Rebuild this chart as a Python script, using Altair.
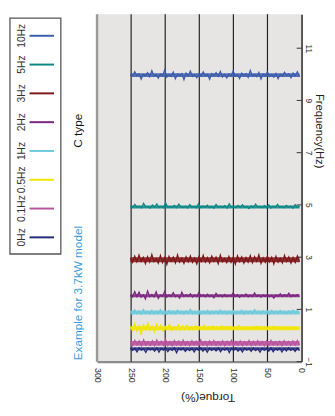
import altair as alt
import pandas as pd
import numpy as np

# ---------------- data ----------------
series_labels = ["0Hz", "0.1Hz", "0.5Hz", "1Hz", "2Hz", "3Hz", "5Hz", "10Hz"]
series_colors = ["#252a78", "#b9529e", "#f2e600", "#6ccadc", "#7b2580", "#7e1518", "#0b8785", "#3b5bab"]
# measured frequency level of each trace (Hz)
series_levels = [-0.51, -0.30, 0.28, 0.88, 1.52, 2.90, 4.92, 9.97]
# visible thickness of the solid part of each trace (px)
series_band = [3, 5, 4, 4, 3, 5, 3, 4]
torque_start = 251
torque_end = 3

# ripple of each trace, in 0.01 Hz, read left (high torque) to right (low torque)
noise_0hz = [3,-6,2,-12,4,-5,1,-14,3,-4,2,-9,4,-13,2,-5,3,-11,1,-6,4,-15,2,-4,3,-10,1,-7,3,-12,2,-5,4,-9,1,-13,3,-6,2,-8,4,-11,1,-5,3,-14,2,-6,4,-9,1,-12,3,-5,2,-10,4,-7,1,-13,3,-6,2,-9,4,-11,1,-5,3,-12,2,-8,4,-6,1,-10,3,-7]
noise_01hz = [8,-8,12,-6,9,-9,14,-7,6,-8,10,-9,13,-6,8,-7,15,-8,7,-9,11,-6,9,-8,12,-7,6,-9,10,-6,8,-8,13,-7,7,-9,9,-6,11,-8,6,-7,10,-9,8,-6,12,-8,7,-7,9,-9,6,-6,11,-8,8,-7,10,-6,7,-9,9,-8,12,-6,6,-7,8,-9,10,-6,7,-8,9,-7,11,-6]
noise_05hz = [6,-8,18,-12,10,-26,14,-6,20,-9,8,-14,16,-5,12,-10,7,-4,15,-8,5,-6,13,-7,9,-5,11,-4,6,-6,10,-3,5,-5,12,-4,6,-3,8,-5,4,-4,9,-3,5,-5,7,-4,3,-3,10,-4,5,-3,6,-5,4,-3,8,-4,5,-2,6,-4,3,-3,7,-4,5,-3,4,-5,6,-3,4,-2,5,-4,3]
noise_1hz = [5,-5,10,-4,6,-6,12,-3,4,-5,8,-6,5,-4,11,-5,3,-6,7,-4,5,-5,9,-3,4,-6,6,-4,13,-5,3,-4,7,-6,5,-3,8,-5,4,-4,6,-5,10,-3,5,-6,4,-4,7,-5,3,-3,9,-6,5,-4,6,-5,11,-3,4,-5,6,-4,5,-6,8,-3,4,-5,7,-4,3,-5,6,-4,9,-3,5,-5]
noise_2hz = [3,-4,16,-3,14,-5,4,-12,18,-3,5,-4,15,-10,3,-2,17,-5,4,-3,12,-4,2,-9,14,-3,4,-2,8,-5,3,-3,13,-2,4,-4,6,-3,2,-8,10,-2,3,-4,5,-3,2,-2,12,-3,4,-6,3,-2,7,-4,2,-3,11,-2,3,-5,4,-2,6,-3,2,-9,3,-2,8,-3,4,-2,10,-4,3,-2,5,-3]
noise_3hz = [6,-10,14,-8,18,-6,9,-15,12,-9,20,-7,5,-13,16,-11,8,-18,13,-6,10,-12,19,-9,7,-14,11,-8,15,-10,6,-16,12,-7,17,-9,8,-12,14,-6,10,-15,18,-8,5,-11,13,-10,9,-17,15,-7,11,-13,8,-9,16,-11,12,-6,19,-14,7,-10,14,-8,10,-16,13,-9,6,-12,17,-7,11,-13,9,-10,15,-8]
noise_5hz = [2,-2,10,-1,3,-3,14,0,2,-4,8,-1,12,-2,3,-3,16,-1,2,-2,6,-3,11,1,-2,3,-4,9,-1,2,-3,13,-2,4,-1,7,-3,2,-5,10,-1,3,-2,5,-4,12,-1,2,-3,6,-2,9,-1,3,-6,4,-2,11,-1,2,-3,5,-2,8,-4,3,-1,10,-2,2,-3,6,-1,4,-5,9,-2,3]
noise_10hz = [2,-4,13,-3,5,-15,3,-2,9,-6,17,-4,3,-12,4,-3,20,-8,2,-5,11,-14,4,-2,6,-18,8,-3,15,-5,2,-10,5,-4,12,-3,3,-16,6,-2,9,-5,14,-7,3,-11,4,-3,16,-4,2,-13,7,-2,5,-9,18,-4,3,-6,10,-15,4,-3,12,-5,2,-8,6,-14,3,-4,11,-2,5,-10,8,-3,13,-6]
series_noise = [noise_0hz, noise_01hz, noise_05hz, noise_1hz, noise_2hz, noise_3hz, noise_5hz, noise_10hz]

torque_ticks = [0, 50, 100, 150, 200, 250, 300]
torque_grid = [50, 100, 150, 200, 250]
freq_ticks = [-1, 1, 3, 5, 7, 9, 11]

# ---------------- build tables ----------------
rows = []
band_rows = []
for lab, lev, noise, bw in zip(series_labels, series_levels, series_noise, series_band):
    tq = np.linspace(torque_start, torque_end, len(noise))
    for i, (t, n) in enumerate(zip(tq, noise)):
        rows.append({"series": lab, "torque": float(t), "freq": lev + n / 100.0, "i": i})
    band_rows.append({"series": lab, "torque": torque_start, "freq": lev, "bw": bw, "i": 0})
    band_rows.append({"series": lab, "torque": torque_end, "freq": lev, "bw": bw, "i": 1})
df = pd.DataFrame(rows)
band_df = pd.DataFrame(band_rows)

FONT = "Liberation Sans"
PLOT_W = 209
PLOT_H = 355
color_scale = alt.Scale(domain=series_labels, range=series_colors)
x_scale = alt.Scale(domain=[0, 300], reverse=True, nice=False, zero=False)
y_scale = alt.Scale(domain=[-1, 12.3], nice=False, zero=False)

x_axis = alt.Axis(values=torque_ticks, labelAngle=90, labelFontSize=9, labelColor="#333",
                  labelPadding=6, ticks=False, grid=False, domainColor="#8c8c8c", domainWidth=2.5,
                  title="Torque(%)", titleAngle=180, titleFontSize=12, titleFontWeight="normal",
                  titleColor="#222", titleX=113, titleY=37, titleBaseline="middle", titleAlign="center")
y_axis = alt.Axis(orient="right", values=freq_ticks, labelAngle=90, labelFontSize=8.5, labelColor="#333",
                  labelPadding=2, ticks=False, grid=False, domainColor="#555", domainWidth=2,
                  title="Frequency(Hz)", titleAngle=90, titleFontSize=11.5, titleFontWeight="normal",
                  titleColor="#222", titleY=119, titlePadding=1)

grid = alt.Chart(pd.DataFrame({"torque": torque_grid})).mark_rule(color="#222", strokeWidth=1.2).encode(
    x=alt.X("torque:Q", scale=x_scale, axis=x_axis))
left_border = alt.Chart(pd.DataFrame({"torque": [300]})).mark_rule(color="#999", strokeWidth=2.5).encode(
    x=alt.X("torque:Q", scale=x_scale, axis=x_axis))
bands = alt.Chart(band_df).mark_line(clip=True, opacity=0.85).encode(
    x=alt.X("torque:Q", scale=x_scale, axis=x_axis),
    y=alt.Y("freq:Q", scale=y_scale, axis=y_axis),
    color=alt.Color("series:N", scale=color_scale, legend=None),
    strokeWidth=alt.StrokeWidth("bw:Q", scale=None, legend=None),
    order="i:Q",
)
lines = alt.Chart(df).mark_line(strokeWidth=1.3, clip=True).encode(
    x=alt.X("torque:Q", scale=x_scale, axis=x_axis),
    y=alt.Y("freq:Q", scale=y_scale, axis=y_axis),
    color=alt.Color("series:N", scale=color_scale, legend=None),
    order="i:Q",
)
inner_ticks = alt.Chart(pd.DataFrame({"freq": freq_ticks})).mark_rule(color="#333", strokeWidth=1).encode(
    y=alt.Y("freq:Q", scale=y_scale, axis=y_axis), x=alt.value(PLOT_W - 5), x2=alt.value(PLOT_W))

main = alt.layer(grid, left_border, bands, lines, inner_ticks).properties(
    width=PLOT_W, height=PLOT_H, view=alt.ViewBackground(fill="#e7e5e3", stroke=None))

# ---------------- left panel: legend box and notes ----------------
legend_order = list(reversed(series_labels))  # top to bottom
leg_df = pd.DataFrame({"series": legend_order, "pos": list(range(len(legend_order)))})
leg_y = alt.Y("pos:Q", scale=alt.Scale(domain=[0, 7], range=[22, 228]), axis=None)

box = alt.Chart(pd.DataFrame({"a": [0]})).mark_rect(fill="white", stroke="#555", strokeWidth=1.3).encode(
    x=alt.value(2), x2=alt.value(54), y=alt.value(4), y2=alt.value(245))
leg_text = alt.Chart(leg_df).mark_text(angle=270, fontSize=10.5, color="#333", align="center",
                                       baseline="middle", font=FONT).encode(
    x=alt.value(14), y=leg_y, text="series:N")
leg_lines = alt.Chart(leg_df).mark_rule(strokeWidth=2).encode(
    x=alt.value(22), x2=alt.value(47), y=leg_y,
    color=alt.Color("series:N", scale=color_scale, legend=None))
note1 = alt.Chart(pd.DataFrame({"t": ["C type"]})).mark_text(
    angle=270, fontSize=12, color="#111", align="center", baseline="middle", font=FONT).encode(
    x=alt.value(72), y=alt.value(119), text="t:N")
note2 = alt.Chart(pd.DataFrame({"t": ["Example for 3.7kW model"]})).mark_text(
    angle=270, fontSize=12, color="#3a9ad9", align="center", baseline="middle", font=FONT).encode(
    x=alt.value(72), y=alt.value(285), text="t:N")

left = alt.layer(box, leg_lines, leg_text, note1, note2).properties(
    width=86, height=PLOT_H, view=alt.ViewBackground(fill="white", stroke=None))

chart = alt.hconcat(left, main, spacing=0).properties(
    padding={"left": 0, "top": 0, "right": 3, "bottom": 0}
).configure(font=FONT).configure_view(stroke=None)

chart.save("out.html", embed_options={"renderer": "svg", "actions": False})
